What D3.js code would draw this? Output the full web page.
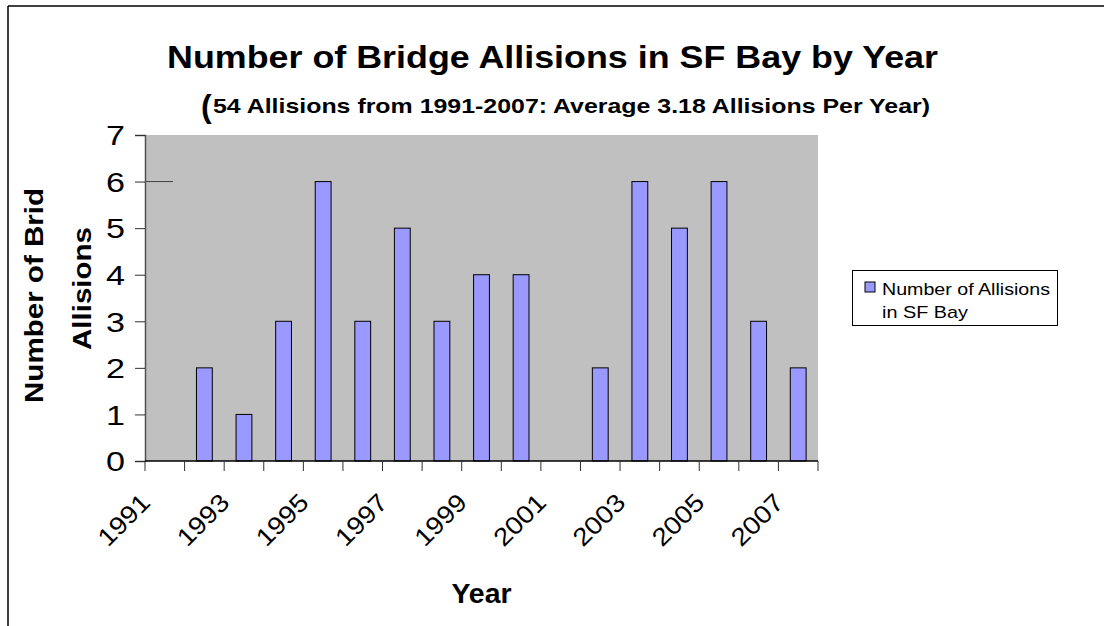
<!DOCTYPE html>
<html><head><meta charset="utf-8">
<script src="https://cdn.jsdelivr.net/npm/d3@7"></script>
<style>body{margin:0;background:#fff}svg{display:block}text{font-family:"Liberation Sans",Arial,sans-serif}</style>
</head><body>
<svg id="c" width="1104" height="626"></svg>
<script>
const years = ["1991","1992","1993","1994","1995","1996","1997","1998","1999","2000","2001","2002","2003","2004","2005","2006","2007"];
const allisions = [0,2,1,3,6,3,5,3,4,4,0,2,6,5,6,3,2];
const yTicks = [0,1,2,3,4,5,6,7];
const seriesName = "Number of Allisions in SF Bay";

const svg = d3.select("#c");
const L = 145, R = 818, T = 135, B = 461;
const x = d3.scaleBand().domain(years).range([L, R]).paddingInner(0).paddingOuter(0);
const y = d3.scaleLinear().domain([0, 7]).range([B, T]);

// outer frame (left + top)
svg.append("line").attr("x1",8).attr("x2",8).attr("y1",6).attr("y2",626).attr("stroke","#000").attr("stroke-width",1.5);
svg.append("line").attr("x1",8).attr("x2",1104).attr("y1",6).attr("y2",6).attr("stroke","#000").attr("stroke-width",1.5);

// plot background
svg.append("rect").attr("x",L).attr("y",T).attr("width",R-L).attr("height",B-T).attr("fill","#C0C0C0");

// stub gridline artifact at 6
svg.append("line").attr("x1",L).attr("x2",L+28).attr("y1",y(6)).attr("y2",y(6)).attr("stroke","#404040").attr("stroke-width",1);

// bars
const bw = x.bandwidth()/2.5;
svg.append("g").selectAll("rect").data(years.map((d,i)=>({year:d,v:allisions[i]})).filter(d=>d.v>0))
  .join("rect")
  .attr("x",d=>x(d.year)+x.bandwidth()/2-bw/2)
  .attr("y",d=>y(d.v))
  .attr("width",bw)
  .attr("height",d=>B-y(d.v))
  .attr("fill","#9999FF").attr("stroke","#000").attr("stroke-width",1);

// y axis
const ya = svg.append("g").attr("transform",`translate(${L},0)`)
  .call(d3.axisLeft(y).tickValues(yTicks).tickFormat(d3.format("d")).tickSize(10).tickPadding(10));
ya.select(".domain").attr("stroke","#505050").attr("stroke-width",1.5);
ya.selectAll(".tick line").attr("stroke","#303030");
ya.selectAll("text").attr("font-size",27).attr("fill","#000").attr("dy","0.36em")
  .attr("textLength",19).attr("lengthAdjust","spacingAndGlyphs")
  .style("font-family",'"Liberation Sans",Arial,sans-serif');

// x axis: tick marks at band edges
const xa = svg.append("g").attr("transform",`translate(0,${B})`);
xa.append("line").attr("x1",L).attr("x2",R).attr("y1",0).attr("y2",0).attr("stroke","#000").attr("stroke-width",1.5);
const edges = years.map(d=>x(d)).concat([R]);
xa.selectAll("line.tk").data(edges).join("line").attr("class","tk")
  .attr("x1",d=>d).attr("x2",d=>d).attr("y1",0).attr("y2",10).attr("stroke","#303030").attr("stroke-width",1);
xa.selectAll("text").data(years.filter((d,i)=>i%2===0)).join("text")
  .attr("transform",d=>`translate(${x(d)+x.bandwidth()/2-13},43) rotate(-45)`)
  .attr("text-anchor","end").attr("font-size",25).attr("fill","#000")
  .attr("textLength",62).attr("lengthAdjust","spacingAndGlyphs").text(d=>d);

// titles
svg.append("text").attr("x",552.5).attr("y",68).attr("text-anchor","middle")
  .attr("font-size",32).attr("font-weight","bold")
  .attr("textLength",771).attr("lengthAdjust","spacingAndGlyphs")
  .text("Number of Bridge Allisions in SF Bay by Year");
svg.append("text").attr("x",201).attr("y",117).attr("font-size",32).attr("font-weight","bold").text("(");
svg.append("text").attr("x",213).attr("y",113).attr("font-size",21).attr("font-weight","bold")
  .attr("textLength",717).attr("lengthAdjust","spacingAndGlyphs")
  .text("54 Allisions from 1991-2007: Average 3.18 Allisions Per Year)");

// axis titles
svg.append("text").attr("transform","translate(43,295.5) rotate(-90)").attr("text-anchor","middle")
  .attr("font-size",26).attr("font-weight","bold")
  .attr("textLength",215).attr("lengthAdjust","spacingAndGlyphs").text("Number of Brid");
svg.append("text").attr("transform","translate(91,288.5) rotate(-90)").attr("text-anchor","middle")
  .attr("font-size",26).attr("font-weight","bold")
  .attr("textLength",123).attr("lengthAdjust","spacingAndGlyphs").text("Allisions");
svg.append("text").attr("x",(L+R)/2).attr("y",603).attr("text-anchor","middle")
  .attr("font-size",27).attr("font-weight","bold")
  .attr("textLength",60).attr("lengthAdjust","spacingAndGlyphs").text("Year");

// legend
const lg = svg.append("g");
lg.append("rect").attr("x",852.5).attr("y",270.5).attr("width",205).attr("height",55).attr("fill","#fff").attr("stroke","#000").attr("stroke-width",1);
lg.append("rect").attr("x",865).attr("y",282).attr("width",10).attr("height",10).attr("fill","#9999FF").attr("stroke","#000");
const words = seriesName.split(" ");
lg.append("text").attr("x",882).attr("y",295).attr("font-size",17)
  .attr("textLength",168).attr("lengthAdjust","spacingAndGlyphs").text(words.slice(0,3).join(" "));
lg.append("text").attr("x",882).attr("y",318).attr("font-size",17)
  .attr("textLength",86).attr("lengthAdjust","spacingAndGlyphs").text(words.slice(3).join(" "));
</script>
</body></html>
